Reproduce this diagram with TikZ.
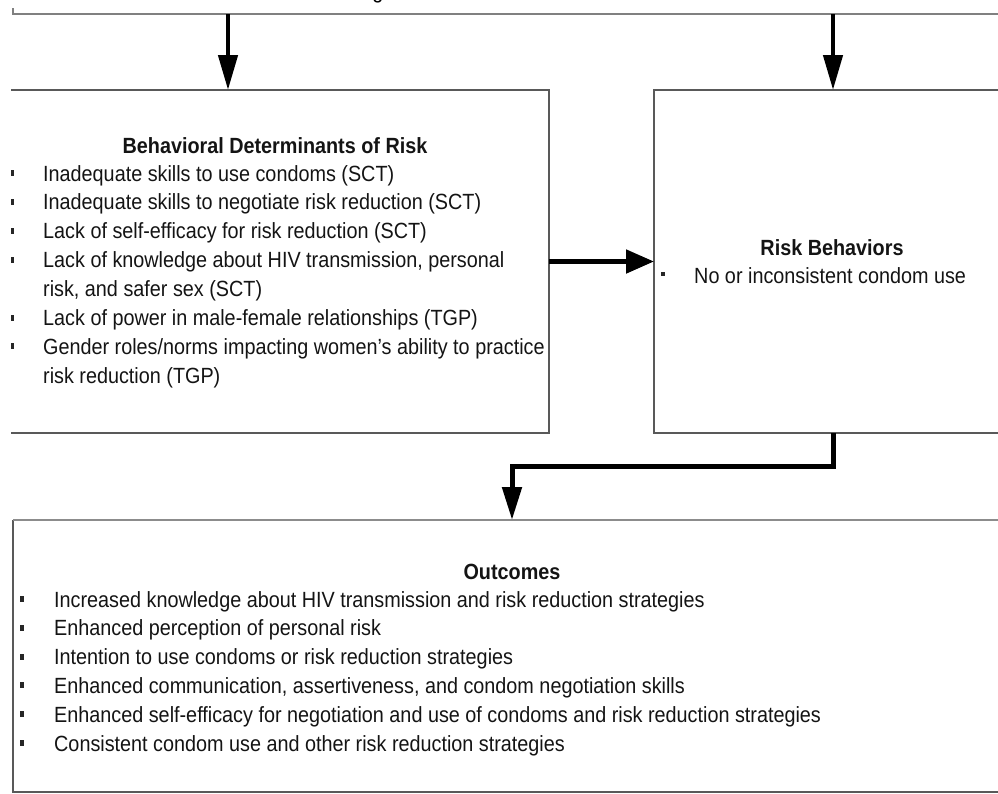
\documentclass[tikz,border=0pt]{standalone}
\usepackage{fontspec}
\setmainfont[FakeStretch=0.9]{Liberation Sans}
\usetikzlibrary{arrows.meta}
\newcommand{\myfs}{\fontsize{22}{29}\selectfont}
\begin{document}
\begin{tikzpicture}[x=1pt,y=-1pt,
  boxn/.style={draw=none, rectangle, inner sep=0pt, outer sep=0pt},
  edge/.style={draw=black!65, line width=1.4pt},
  txt/.style={anchor=base west, inner sep=0pt, font=\myfs, text=black!92},
  ttl/.style={anchor=base, inner sep=0pt, font=\myfs\bfseries, text=black!92},
  bul/.style={rectangle, fill=black!85, inner sep=0pt, minimum width=3.2pt, minimum height=6pt},
  arrV/.style={draw=black, line width=4.5pt, -{Triangle[length=35pt,width=19pt]}},
  arrH/.style={draw=black, line width=5pt, -{Triangle[length=28pt,width=23pt]}},
  arrB/.style={draw=black, line width=5pt, -{Triangle[length=33pt,width=19pt]}}]
\useasboundingbox (0,0) rectangle (998,793);
\clip (0,0) rectangle (998,793);

% cut-off box above
\node[anchor=base, inner sep=0pt, font=\myfs] (gfrag) at (378,-2) {g};
\coordinate (topL) at (12.7,8);
\coordinate (topC) at (12.7,14);
\coordinate (topR) at (1005,14);
\draw[edge, draw=black!50, line width=1.6pt] (topL) -- (topC) -- (topR);
\coordinate (t1) at (228,14);
\coordinate (t2) at (833,14);

% boxes (invisible nodes, visible borders drawn after)
\node[boxn, minimum width=538pt, minimum height=343pt] (beh) at (280,261.5) {};
\node[boxn, minimum width=356pt, minimum height=343pt] (rsk) at (832,261.5) {};
\node[boxn, minimum width=997pt, minimum height=272pt] (out) at (511.5,656) {};

\draw[edge] (beh.north west) -- (beh.north east) -- (beh.south east) -- (beh.south west);
\draw[edge] (rsk.north east) -- (rsk.north west) -- (rsk.south west) -- (rsk.south east);
\draw[edge, line width=1.2pt] (out.north west) -- (out.south west) -- (out.south east);
\draw[edge, draw=black!45, line width=2.6pt] (out.north west) -- (out.north east);

% arrows
\draw[arrV] (t1) -- (t1 |- beh.north);
\draw[arrV] (t2) -- (t2 |- rsk.north);
\draw[arrH] (beh.east) -- (rsk.west);
\coordinate (c1) at (833,466);
\coordinate (c2) at (512,466);
\draw[arrB] (c1 |- rsk.south) -- (c1) -- (c2) -- (c2 |- out.north);

% Behavioral Determinants of Risk
\node[ttl] (bt) at (275,153) {Behavioral Determinants of Risk};
\node[txt] (b1) at (43,181) {Inadequate skills to use condoms (SCT)};
\node[txt] (b2) at (43,209.9) {Inadequate skills to negotiate risk reduction (SCT)};
\node[txt] (b3) at (43,238.8) {Lack of self-efficacy for risk reduction (SCT)};
\node[txt] (b4) at (43,267.7) {Lack of knowledge about HIV transmission, personal};
\node[txt] (b4b) at (43,296.6) {risk, and safer sex (SCT)};
\node[txt] (b5) at (43,325.5) {Lack of power in male-female relationships (TGP)};
\node[txt] (b6) at (43,354.4) {Gender roles/norms impacting women's ability to practice};
\node[txt] (b6b) at (43,383.3) {risk reduction (TGP)};
\node[bul] (bb1) at (12.5,173) {};
\node[bul] (bb2) at (12.5,201.9) {};
\node[bul] (bb3) at (12.5,230.8) {};
\node[bul] (bb4) at (12.5,259.7) {};
\node[bul] (bb5) at (12.5,317.5) {};
\node[bul] (bb6) at (12.5,346.4) {};

% Risk Behaviors
\node[ttl] (rt) at (832,255) {Risk Behaviors};
\node[txt] (r1) at (694,283) {No or inconsistent condom use};
\node[bul, minimum width=4pt, minimum height=4.5pt] (rb1) at (663,274) {};

% Outcomes
\node[ttl] (ot) at (512,579) {Outcomes};
\node[txt] (o1) at (54,607) {Increased knowledge about HIV transmission and risk reduction strategies};
\node[txt] (o2) at (54,635.8) {Enhanced perception of personal risk};
\node[txt] (o3) at (54,664.6) {Intention to use condoms or risk reduction strategies};
\node[txt] (o4) at (54,693.4) {Enhanced communication, assertiveness, and condom negotiation skills};
\node[txt] (o5) at (54,722.2) {Enhanced self-efficacy for negotiation and use of condoms and risk reduction strategies};
\node[txt] (o6) at (54,751) {Consistent condom use and other risk reduction strategies};
\node[bul, minimum width=4pt] (ob1) at (22,599) {};
\node[bul, minimum width=4pt] (ob2) at (22,627.8) {};
\node[bul, minimum width=4pt] (ob3) at (22,656.6) {};
\node[bul, minimum width=4pt] (ob4) at (22,685.4) {};
\node[bul, minimum width=4pt] (ob5) at (22,714.2) {};
\node[bul, minimum width=4pt] (ob6) at (22,743) {};
\end{tikzpicture}
\end{document}
